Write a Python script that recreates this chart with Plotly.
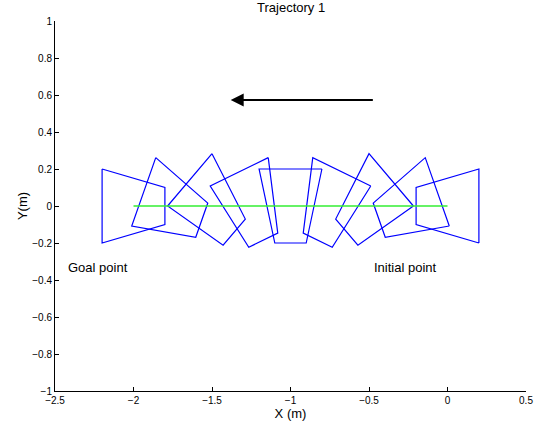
import numpy as np
import plotly.graph_objects as go

# Robot poses along the trajectory (from initial point to goal point)
pose_x = [0.0, -0.25, -0.5, -0.75, -1.0, -1.25, -1.5, -1.75, -2.0]
pose_y = [0.0, 0.0, 0.0, 0.0, 0.0, 0.0, 0.0, 0.0, 0.0]
pose_heading_deg = [180, 202.5, 225, 247.5, 270, 292.5, 315, 337.5, 360]

# Robot outline in its own frame (trapezoid, narrow side = front)
body_x = [-0.2, 0.2, 0.2, -0.2, -0.2]
body_y = [0.2, 0.1, -0.1, -0.2, 0.2]

# Reference path
path_x = [-2.0, 0.0]
path_y = [0.0, 0.0]

# Direction arrow (tail -> head)
arrow_tail = (-0.466, 0.573)
arrow_head = (-1.381, 0.573)

x_ticks = [-2.5, -2, -1.5, -1, -0.5, 0, 0.5]
x_ticktext = ["\u22122.5", "\u22122", "\u22121.5", "\u22121", "\u22120.5", "0", "0.5"]
y_ticks = [-1, -0.8, -0.6, -0.4, -0.2, 0, 0.2, 0.4, 0.6, 0.8, 1]
y_ticktext = ["\u22121", "\u22120.8", "\u22120.6", "\u22120.4", "\u22120.2", "0",
              "0.2", "0.4", "0.6", "0.8", "1"]

fig = go.Figure()

bx = np.array(body_x)
by = np.array(body_y)
for cx, cy, hd in zip(pose_x, pose_y, pose_heading_deg):
    t = np.deg2rad(hd)
    xs = cx + bx * np.cos(t) - by * np.sin(t)
    ys = cy + bx * np.sin(t) + by * np.cos(t)
    fig.add_trace(go.Scatter(x=xs, y=ys, mode="lines",
                             line=dict(color="#0000ff", width=1.2),
                             hoverinfo="skip", showlegend=False))

fig.add_trace(go.Scatter(x=path_x, y=path_y, mode="lines",
                         line=dict(color="#33ee33", width=1.6),
                         hoverinfo="skip", showlegend=False))

font_family = "Liberation Sans, Arial, sans-serif"

fig.add_annotation(x=arrow_head[0], y=arrow_head[1], ax=arrow_tail[0], ay=arrow_tail[1],
                   xref="x", yref="y", axref="x", ayref="y",
                   text="", showarrow=True, arrowhead=2, arrowsize=1.3,
                   arrowwidth=2, arrowcolor="black", standoff=0)

fig.add_annotation(x=-2.43, y=-0.33, xref="x", yref="y", text="Goal point",
                   showarrow=False, xanchor="left", yanchor="middle",
                   font=dict(family=font_family, size=13, color="black"))
fig.add_annotation(x=-0.48, y=-0.33, xref="x", yref="y", text="Initial point",
                   showarrow=False, xanchor="left", yanchor="middle",
                   font=dict(family=font_family, size=13, color="black"))

fig.add_annotation(x=0.5, y=1, xref="paper", yref="paper", text="Trajectory 1",
                   showarrow=False, xanchor="center", yanchor="bottom", yshift=4,
                   font=dict(family=font_family, size=13, color="black"))

axis_common = dict(showgrid=False, zeroline=False, showline=True, linecolor="black",
                   linewidth=1, ticks="inside", ticklen=4, tickcolor="black",
                   tickfont=dict(family=font_family, size=10, color="black"),
                   mirror=False, automargin=False)

fig.update_layout(
    width=539, height=430,
    margin=dict(l=55, r=13, t=21, b=39),
    paper_bgcolor="white", plot_bgcolor="white",
    font=dict(family=font_family, color="black"),
    xaxis=dict(range=[-2.5, 0.5], tickvals=x_ticks, ticktext=x_ticktext,
               title=dict(text="X (m)", font=dict(family=font_family, size=13), standoff=2),
               **axis_common),
    yaxis=dict(range=[-1, 1], tickvals=y_ticks, ticktext=y_ticktext,
               title=dict(text="Y(m)", font=dict(family=font_family, size=13), standoff=1),
               **axis_common),
)

fig.write_html("out.html")
